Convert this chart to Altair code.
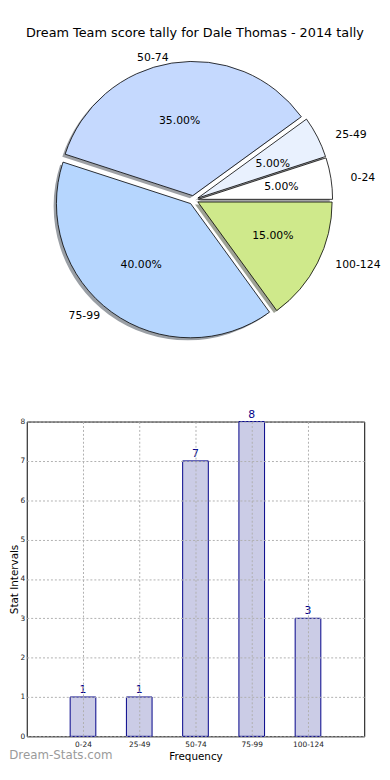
import altair as alt
import pandas as pd

# ---------------- data ----------------
title_text = "Dream Team score tally for Dale Thomas - 2014 tally"
watermark = "Dream-Stats.com"
categories = ["0-24", "25-49", "50-74", "75-99", "100-124"]
counts = [1, 1, 7, 8, 3]
slice_colors = ["#ffffff", "#e9f1fe", "#c5d9fe", "#b6d6fe", "#cfe98b"]
y_ticks = [0, 1, 2, 3, 4, 5, 6, 7, 8]


def shadow_of(c):
    r, g, b = int(c[1:3], 16), int(c[3:5], 16), int(c[5:7], 16)
    return "#%02x%02x%02x" % (int(r * 0.3), int(g * 0.3), int(b * 0.3))


df = pd.DataFrame({
    "cat": categories,
    "count": counts,
    "color": slice_colors,
    "shadow": [shadow_of(c) for c in slice_colors],
    "idx": list(range(len(categories))),
})

# ---------------- layout ----------------
PLOT_LEFT = 28          # page x of plot-area left edge
PIE_W, PIE_H = 354, 300
CX = 197 - PLOT_LEFT    # pie centre inside pie view
CY = 158.5
RX, RY = 142, 128       # pixels per unit radius (horizontal / vertical)
R = 136                 # wedge radius in px
EXPLODE = 0.035
SHADOW = 0.02
BAR_W, BAR_H = 342, 319

xs = alt.Scale(domain=[-CX / RX, (PIE_W - CX) / RX], nice=False, zero=False)
ys = alt.Scale(domain=[-(PIE_H - CY) / RY, CY / RY], nice=False, zero=False)

pie_base = (
    alt.Chart(df)
    .transform_window(cum="sum(count)", sort=[alt.SortField("idx", order="ascending")])
    .transform_joinaggregate(total="sum(count)")
    .transform_calculate(
        f0="(datum.cum - datum.count) / datum.total",
        f1="datum.cum / datum.total",
    )
    .transform_calculate(
        mid="PI * (datum.f0 + datum.f1)",
        t0="PI / 2 - 2 * PI * datum.f0",
        t1="PI / 2 - 2 * PI * datum.f1",
    )
    .transform_calculate(
        ex=f"{EXPLODE} * cos(datum.mid)",
        ey=f"{EXPLODE} * sin(datum.mid)",
    )
    .transform_calculate(
        sx=f"datum.ex - {SHADOW}",
        sy=f"datum.ey - {SHADOW}",
        lx="datum.ex + 1.1 * cos(datum.mid)",
        ly="datum.ey + 1.1 * sin(datum.mid)",
        px="datum.ex + 0.6 * cos(datum.mid)",
        py="datum.ey + 0.6 * sin(datum.mid)",
        pct="format(100 * datum.count / datum.total, '.2f') + '%'",
    )
)

theta = alt.Theta("t0:Q", scale=None, stack=None)
theta2 = alt.Theta2("t1:Q")

shadows = pie_base.mark_arc(radius=R, opacity=0.5).encode(
    x=alt.X("sx:Q", scale=xs, axis=None),
    y=alt.Y("sy:Q", scale=ys, axis=None),
    theta=theta, theta2=theta2,
    color=alt.Color("shadow:N", scale=None),
)
wedges = pie_base.mark_arc(radius=R, stroke="black", strokeWidth=0.8).encode(
    x=alt.X("ex:Q", scale=xs, axis=None),
    y=alt.Y("ey:Q", scale=ys, axis=None),
    theta=theta, theta2=theta2,
    color=alt.Color("color:N", scale=None),
)
lab_right = pie_base.transform_filter("cos(datum.mid) >= 0").mark_text(
    align="left", baseline="middle", fontSize=11, color="black"
).encode(
    x=alt.X("lx:Q", scale=xs, axis=None),
    y=alt.Y("ly:Q", scale=ys, axis=None),
    text="cat:N",
)
lab_left = pie_base.transform_filter("cos(datum.mid) < 0").mark_text(
    align="right", baseline="middle", fontSize=11, color="black"
).encode(
    x=alt.X("lx:Q", scale=xs, axis=None),
    y=alt.Y("ly:Q", scale=ys, axis=None),
    text="cat:N",
)
pct = pie_base.mark_text(align="center", baseline="middle", fontSize=11, color="black").encode(
    x=alt.X("px:Q", scale=xs, axis=None),
    y=alt.Y("py:Q", scale=ys, axis=None),
    text="pct:N",
)

pie = alt.layer(shadows, wedges, lab_right, lab_left, pct).properties(width=PIE_W, height=PIE_H)

# ---------------- bar chart ----------------
grid_style = dict(grid=True, gridColor="#b0b0b0", gridDash=[2, 2], gridWidth=1, zindex=1)

x_enc = alt.X(
    "cat:N", sort=categories,
    scale=alt.Scale(type="point", padding=1),
    axis=alt.Axis(
        title="Frequency", labelAngle=0, labelFontSize=7.5, labelColor="#222222",
        ticks=False, tickSize=0, labelPadding=4, domain=False,
        titleFontSize=10.5, titleFontWeight="normal", titleColor="black", titlePadding=4,
        **grid_style,
    ),
)
y_enc = alt.Y(
    "count:Q",
    scale=alt.Scale(domain=[0, 8], nice=False),
    axis=alt.Axis(
        values=y_ticks, title="Stat Intervals", labelFontSize=7.5, labelColor="#222222",
        ticks=False, tickSize=0, labelPadding=2, domain=False,
        titleFontSize=10.5, titleFontWeight="normal", titleColor="black", titlePadding=1,
        **grid_style,
    ),
)

bar_base = alt.Chart(df)
bars = bar_base.mark_bar(size=26, fill="#cbcce6", stroke="#000088", strokeWidth=1).encode(x=x_enc, y=y_enc)
bar_text = bar_base.mark_text(baseline="alphabetic", dy=-4, fontSize=11, color="#000088").encode(
    x=x_enc, y=y_enc, text="count:Q"
)

bar_chart = alt.layer(bars, bar_text).properties(
    width=BAR_W, height=BAR_H,
    view=alt.ViewBackground(stroke="black", strokeWidth=1),
    title=alt.TitleParams(
        watermark, orient="bottom", anchor="start", fontSize=12,
        fontWeight="normal", color="#9a9a9a", offset=-12,
    ),
)

chart = (
    alt.vconcat(pie, bar_chart, spacing=83, bounds="flush")
    .properties(
        title=alt.TitleParams(
            title_text, fontSize=13, fontWeight="normal", anchor="middle", offset=3, color="black"
        ),
        padding={"left": 0, "top": 14, "right": 0, "bottom": 0},
    )
    .configure(font="DejaVu Sans")
    .configure_view(stroke="transparent")
)

chart.save("out.html", embed_options={"renderer": "svg", "actions": False})
